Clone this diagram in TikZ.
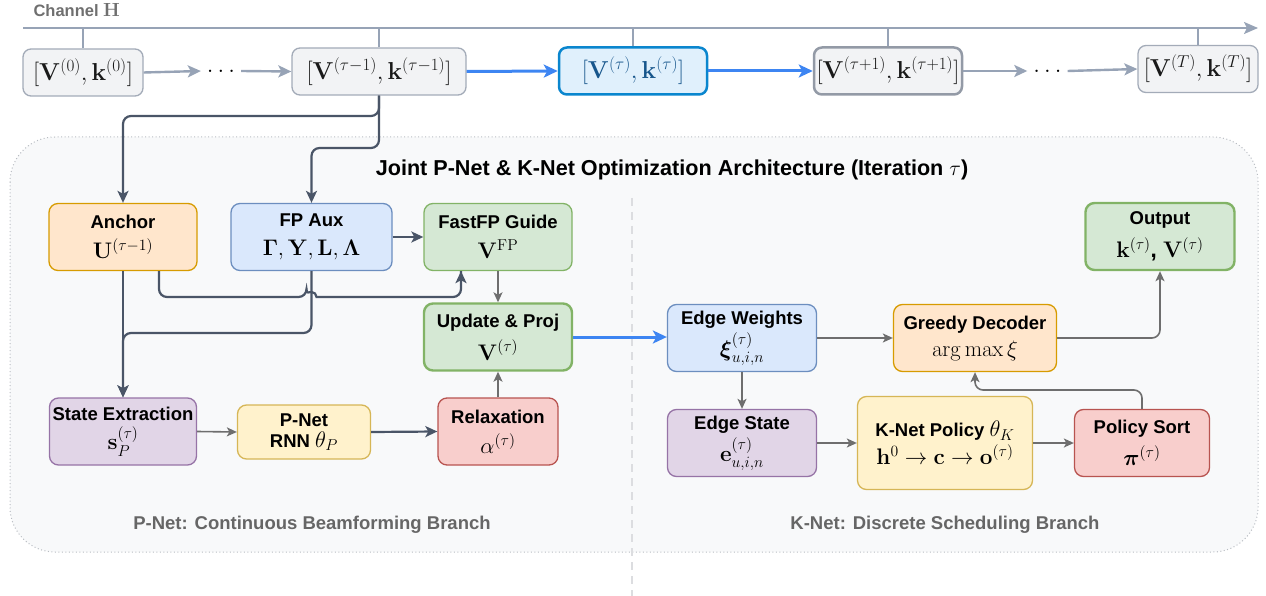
\RequirePackage{fix-cm}
\documentclass[tikz,border=0pt]{standalone}
\usepackage{amsmath}
\usepackage[no-math]{fontspec}
\setmainfont{Liberation Sans}
\usetikzlibrary{arrows.meta}

\definecolor{panelfill}{HTML}{F8F9FA}
\definecolor{paneldraw}{HTML}{B8BCC2}
\definecolor{divline}{HTML}{DCDDE0}
\definecolor{topline}{HTML}{97A3B6}
\definecolor{topfill}{HTML}{F2F3F5}
\definecolor{topdraw}{HTML}{A3ABB8}
\definecolor{curfill}{HTML}{E0F0FC}
\definecolor{curdraw}{HTML}{0A86CE}
\definecolor{curtext}{HTML}{17568C}
\definecolor{chantext}{HTML}{6F6F6F}
\definecolor{slate}{HTML}{4A5567}
\definecolor{gline}{HTML}{6E6E6E}
\definecolor{blueline}{HTML}{3D85F2}
\definecolor{orfill}{HTML}{FFE6CC}\definecolor{ordraw}{HTML}{D79B00}
\definecolor{blfill}{HTML}{DAE8FC}\definecolor{bldraw}{HTML}{6C8EBF}
\definecolor{grfill}{HTML}{D5E8D4}\definecolor{grdraw}{HTML}{82B366}
\definecolor{pufill}{HTML}{E1D5E7}\definecolor{pudraw}{HTML}{9673A6}
\definecolor{yefill}{HTML}{FFF2CC}\definecolor{yedraw}{HTML}{D6B656}
\definecolor{refill}{HTML}{F8CECC}\definecolor{redraw}{HTML}{B85450}
\definecolor{branchtext}{HTML}{666666}

\newcommand{\mfs}{\fontsize{22.5}{27}\selectfont}
\newcommand{\tfs}{\fontsize{18.5}{22}\selectfont\bfseries}
\newcommand{\topfs}{\fontsize{24.5}{27}\selectfont}

\tikzset{
  tbox/.style={rounded corners=8pt, fill=topfill, draw=topdraw, line width=1.3pt,
    minimum height=47pt, inner sep=0pt, font=\topfs, text=black!90},
  curbox/.style={tbox, fill=curfill, draw=curdraw, line width=2.5pt, text=curtext},
  nextbox/.style={tbox, draw=topdraw!90!black, line width=2.5pt},
  dotsnode/.style={inner sep=0pt, minimum width=40pt, minimum height=20pt, font=\topfs},
  nd/.style={rounded corners=9pt, line width=1.3pt, align=center, inner sep=0pt,
    minimum height=67pt, font=\tfs, text=black},
  thickbd/.style={line width=2.4pt},
  orbox/.style={nd, fill=orfill, draw=ordraw},
  blbox/.style={nd, fill=blfill, draw=bldraw},
  grbox/.style={nd, fill=grfill, draw=grdraw},
  pubox/.style={nd, fill=pufill, draw=pudraw},
  yebox/.style={nd, fill=yefill, draw=yedraw},
  rebox/.style={nd, fill=refill, draw=redraw},
  slatearr/.style={draw=slate, line width=2.2pt, rounded corners=8pt,
    -{Stealth[length=12pt,width=11pt,inset=3pt]}},
  slateline/.style={draw=slate, line width=2.2pt},
  grayarr/.style={draw=gline, line width=1.6pt, rounded corners=8pt,
    -{Stealth[length=10pt,width=9pt,inset=2.5pt]}},
  bluearr/.style={draw=blueline, line width=3pt,
    -{Stealth[length=14pt,width=13pt,inset=3.5pt]}},
  toparr/.style={draw=topline, line width=2.4pt,
    -{Stealth[length=13pt,width=12pt,inset=3pt]}},
  chanline/.style={draw=topline, line width=2pt},
  branchlabel/.style={font=\fontsize{18.5}{22}\selectfont\bfseries, text=branchtext},
}

\begin{document}
\begin{tikzpicture}[x=1pt,y=1pt]
\useasboundingbox (0,0) rectangle (1266,-596);

% shared panel holding both branches
\path[fill=panelfill, draw=paneldraw, line width=1pt, dash pattern=on 1pt off 2.5pt,
  rounded corners=45pt] (10,-137) rectangle (1258,-552);
\draw[divline, line width=2pt, dash pattern=on 8pt off 6pt] (632,-198) -- (632,-596);

% channel timeline
\node[anchor=base west, text=chantext, font=\fontsize{16.5}{18}\selectfont\bfseries]
  (chlabel) at (30,-17) {Channel {\fontsize{19}{19}\selectfont$\mathbf{H}$}};
\coordinate (chs) at (23,-28);
\coordinate (che) at (1258,-28);

% iterates along the timeline
\node[tbox, minimum width=120pt] (top0) at (83,-72.5) {$[\mathbf{V}^{(0)},\mathbf{k}^{(0)}]$};
\node[dotsnode] (dots1) at (221,-71) {$\ldots$};
\node[tbox, minimum width=174pt] (topPrev) at (379,-71.5) {$[\mathbf{V}^{(\tau-1)},\mathbf{k}^{(\tau-1)}]$};
\node[curbox, minimum width=148pt] (topCur) at (633,-71) {$[\mathbf{V}^{(\tau)},\mathbf{k}^{(\tau)}]$};
\node[nextbox, minimum width=148pt] (topNext) at (888,-71) {$[\mathbf{V}^{(\tau+1)},\mathbf{k}^{(\tau+1)}]$};
\node[dotsnode] (dots2) at (1047.5,-71) {$\ldots$};
\node[tbox, minimum width=120pt] (topLast) at (1198,-69) {$[\mathbf{V}^{(T)},\mathbf{k}^{(T)}]$};

\draw[chanline, -{Stealth[length=14pt,width=12pt,inset=3pt]}] (chs) -- (che);
\foreach \b in {top0,topPrev,topCur,topNext,topLast}
  \draw[chanline] (\b.north) -- (\b.north |- chs);

\draw[toparr] (top0.east) -- (dots1.west);
\draw[toparr] (dots1.east) -- (topPrev.west);
\draw[bluearr] (topPrev.east) -- (topCur.west);
\draw[bluearr] (topCur.east) -- (topNext.west);
\draw[toparr] (topNext.east) -- (dots2.west);
\draw[toparr] (dots2.east) -- (topLast.west);

% panel title
\node[font=\fontsize{21.6}{24}\selectfont\bfseries] (title) at (672,-170)
  {Joint P-Net \& K-Net Optimization Architecture (Iteration $\tau$)};

% P-Net branch
\node[orbox, minimum width=148pt] (anchor) at (123,-237) {Anchor\\[8pt]\mfs$\mathbf{U}^{(\tau-1)}$};
\node[blbox, minimum width=161pt] (fpaux) at (311.5,-237) {FP Aux\\[7pt]\mfs$\mathbf{\Gamma},\mathbf{Y},\mathbf{L},\mathbf{\Lambda}$};
\node[grbox, minimum width=148pt] (fastfp) at (498,-237) {FastFP Guide\\[8pt]\mfs$\mathbf{V}^{\mathrm{FP}}$};
\node[grbox, thickbd, minimum width=148pt] (update) at (498,-337) {Update \& Proj\\[8pt]\mfs$\mathbf{V}^{(\tau)}$};
\node[pubox, minimum width=147pt] (state) at (123,-431.5) {State Extraction\\[5pt]\mfs$\mathbf{s}_P^{(\tau)}$};
\node[yebox, minimum width=133pt, minimum height=54pt] (pnet) at (304,-432) {P-Net\\[-1pt]RNN {\mfs$\theta_P$}};
\node[rebox, minimum width=120pt] (relax) at (498,-431.5) {Relaxation\\[8pt]\mfs$\alpha^{(\tau)}$};

% K-Net branch
\node[blbox, minimum width=149pt] (edgew) at (742,-338) {Edge Weights\\[4pt]\mfs$\boldsymbol{\xi}_{u,i,n}^{(\tau)}$};
\node[orbox, minimum width=163pt] (greedy) at (975,-338) {Greedy Decoder\\[5pt]\mfs$\arg\max\xi$};
\node[grbox, thickbd, minimum width=149pt] (output) at (1160,-236.5) {Output\\[8pt]\mfs$\mathbf{k}^{(\tau)}$\textbf{,} $\mathbf{V}^{(\tau)}$};
\node[pubox, minimum width=149pt] (edges) at (742,-443) {Edge State\\[4pt]\mfs$\mathbf{e}_{u,i,n}^{(\tau)}$};
\node[yebox, minimum width=175pt, minimum height=93pt] (knet) at (945,-443) {K-Net Policy {\mfs$\theta_K$}\\[3pt]\mfs$\mathbf{h}^0\to\mathbf{c}\to\mathbf{o}^{(\tau)}$};
\node[rebox, minimum width=135pt] (psort) at (1142,-443) {Policy Sort\\[7pt]\mfs$\boldsymbol{\pi}^{(\tau)}$};

% branch captions
\node[branchlabel] (plabel) at (312,-525) {P-Net: Continuous Beamforming Branch};
\node[branchlabel] (klabel) at (945,-525) {K-Net: Discrete Scheduling Branch};

% routing helpers
\coordinate (busA) at (0,-116);
\coordinate (busB) at (0,-148);
\coordinate (busC) at (0,-333);
\coordinate (busD) at (0,-390);
\coordinate (hopL) at (306.5,-297);

% previous iterate feeds anchor and FP auxiliaries
\draw[slatearr] (topPrev.south) |- (anchor.north |- busA) -- (anchor.north);
\draw[slatearr] (topPrev.south) |- (fpaux.north |- busB) -- (fpaux.north);

% P-Net wiring
\draw[slatearr] (anchor.south) -- (state.north);
\draw[slatearr] (fpaux.south) |- (state.north |- busC) -- (state.north);
\draw[slateline, rounded corners=8pt] ([xshift=36pt]anchor.south) |- (hopL)
  [sharp corners] arc[start angle=180, end angle=0, radius=5pt]
  [rounded corners=8pt] -| ([xshift=-37pt]fastfp.south);
\draw[slateline, -{Stealth[length=12pt,width=11pt,inset=3pt]}]
  ([xshift=-37pt,yshift=-2pt]fastfp.south) -- ([xshift=-37pt]fastfp.south);
\draw[slatearr] (fpaux.east) -- (fastfp.west);
\draw[grayarr] (fastfp.south) -- (update.north);
\draw[grayarr] (relax.north) -- (update.south);
\draw[grayarr] (state.east) -- (pnet.west);
\draw[slatearr] (pnet.east) -- (relax.west);

% hand-over to K-Net
\draw[bluearr] (update.east) -- (update.east -| edgew.west);

% K-Net wiring
\draw[grayarr] (edgew.east) -- (edgew.east -| greedy.west);
\draw[grayarr] (edgew.south) -- (edges.north);
\draw[grayarr] (edges.east) -- (knet.west);
\draw[grayarr] (knet.east) -- (psort.west);
\draw[grayarr] (psort.north) |- (greedy.south |- busD) -- (greedy.south);
\draw[grayarr] (greedy.east) -| (output.south);
\end{tikzpicture}
\end{document}
